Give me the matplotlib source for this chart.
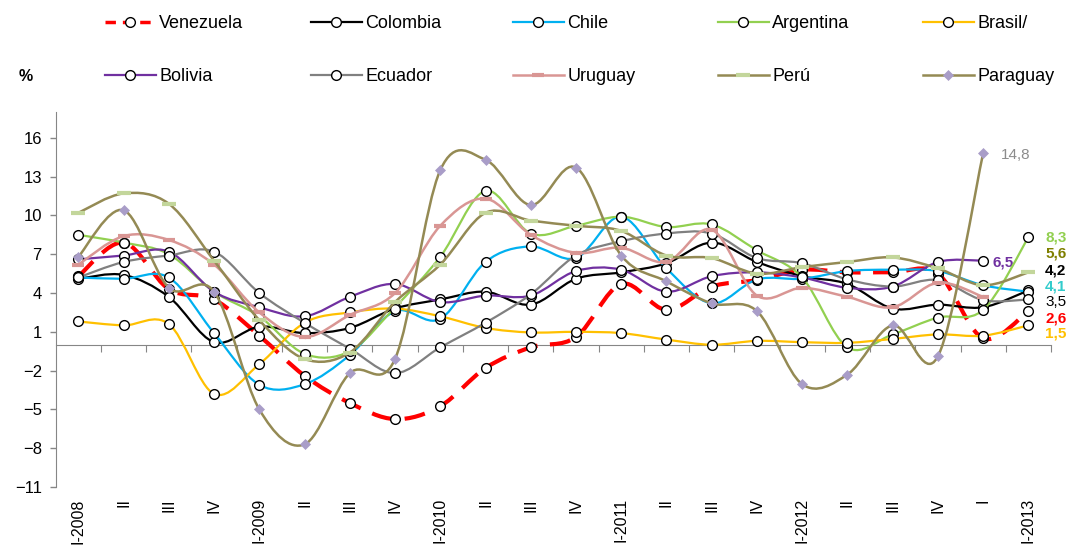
import numpy as np
import matplotlib
matplotlib.use('Agg')
import matplotlib.pyplot as plt
from matplotlib.path import Path
from matplotlib.patches import PathPatch
from matplotlib.lines import Line2D

plt.rcParams['font.family'] = ['Liberation Sans', 'DejaVu Sans']

# Trimestres
quarters = ["I-2008", "II", "III", "IV", "I-2009", "II", "III", "IV",
            "I-2010", "II", "III", "IV", "I-2011", "II", "III", "IV",
            "I-2012", "II", "III", "IV", "I", "I-2013"]

# Variación (%) por país
venezuela = [5.3, 7.9, 4.3, 3.5, 0.7, -2.4, -4.5, -5.75, -4.75, -1.8, -0.2,
             0.6, 4.7, 2.7, 4.5, 5.0, 5.8, 5.6, 5.6, 5.5, 0.5, 2.6]
colombia = [5.1, 5.4, 3.7, 0.2, 1.4, 0.9, 1.3, 2.8, 3.5, 4.1, 3.1,
            5.1, 5.6, 6.3, 7.9, 6.4, 5.3, 4.7, 2.8, 3.1, 2.9, 4.2]
chile = [5.2, 5.1, 5.2, 0.9, -3.1, -3.05, -0.8, 2.6, 2.0, 6.4, 7.6,
         6.7, 9.9, 5.9, 3.2, 5.05, 5.1, 5.7, 5.8, 5.7, 4.6, 4.1]
argentina = [8.5, 7.9, 7.0, 4.1, 2.2, -0.7, -0.5, 2.9, 6.8, 11.9, 8.6,
             9.2, 9.9, 9.1, 9.3, 7.3, 5.2, -0.2, 0.8, 2.1, 2.7, 8.3]
brasil = [1.8, 1.5, 1.6, -3.8, -1.5, 1.7, 2.5, 2.8, 2.2, 1.3, 0.95,
          1.0, 0.9, 0.4, 0.0, 0.3, 0.2, 0.15, 0.45, 0.8, 0.7, 1.5]
bolivia = [6.6, 6.9, 7.2, 4.1, 2.9, 2.2, 3.7, 4.7, 3.3, 3.8, 3.8,
           5.7, 5.8, 4.1, 5.3, 5.6, 5.2, 4.4, 4.5, 6.4, 6.5]
ecuador = [5.2, 6.4, 6.9, 7.2, 4.0, 1.7, -0.3, -2.2, -0.2, 1.7, 3.9,
           6.9, 8.0, 8.6, 8.6, 6.7, 6.3, 5.05, 4.5, 5.0, 3.45, 3.5]
uruguay = [6.2, 8.4, 8.1, 6.2, 2.5, 0.6, 2.3, 4.0, 9.2, 11.3, 8.5,
           7.1, 7.5, 6.4, 8.9, 3.8, 4.4, 3.7, 2.9, 4.8, 3.7]
peru = [10.2, 11.7, 10.9, 6.5, 1.9, -1.1, -0.6, 3.3, 6.2, 10.2, 9.6,
        9.2, 8.8, 6.9, 6.7, 5.5, 6.0, 6.4, 6.75, 5.9, 4.6, 5.6]
paraguay = [6.8, 10.4, 4.4, 4.1, -5.0, -7.7, -2.2, -1.1, 13.5, 14.3, 10.8,
            13.7, 6.9, 4.9, 3.2, 2.6, -3.05, -2.3, 1.5, -0.9, 14.8]

OLIVE = '#948A54'
circ = dict(marker='o', ms=7, mfc='white', mec='black', mew=1)
# nombre, datos, color, estilo línea, ancho, marcador
series = [
    ("Venezuela", venezuela, '#FF0000', (0, (5, 3)), 3.0, circ),
    ("Colombia", colombia, '#000000', '-', 1.6, circ),
    ("Chile", chile, '#00B0F0', '-', 1.6, circ),
    ("Argentina", argentina, '#92D050', '-', 1.6, circ),
    ("Brasil/", brasil, '#FFC000', '-', 1.6, circ),
    ("Bolivia", bolivia, '#7030A0', '-', 1.6, circ),
    ("Ecuador", ecuador, '#808080', '-', 1.6, circ),
    ("Uruguay", uruguay, '#D99694', '-', 1.8,
     dict(marker='_', ms=9, mec='#D99694', mew=3)),
    ("Perú", peru, OLIVE, '-', 1.8,
     dict(marker='_', ms=10, mec='#C3D69B', mew=3)),
    ("Paraguay", paraguay, OLIVE, '-', 1.8,
     dict(marker='D', ms=5.5, mfc='#A99DC8', mec='#A99DC8', mew=0.5)),
]


def smooth_path(xs, ys):
    # curva suavizada tipo Excel (Catmull-Rom -> Bezier)
    pts = np.column_stack([xs, ys]).astype(float)
    n = len(pts)
    verts = [pts[0]]
    codes = [Path.MOVETO]
    for i in range(n - 1):
        p0 = pts[i - 1] if i > 0 else pts[i]
        p1, p2 = pts[i], pts[i + 1]
        p3 = pts[i + 2] if i + 2 < n else pts[i + 1]
        verts += [p1 + (p2 - p0) / 6, p2 - (p3 - p1) / 6, p2]
        codes += [Path.CURVE4] * 3
    return Path(verts, codes)


fig = plt.figure(figsize=(10.72, 5.46), dpi=100)
ax = fig.add_axes([0.052, 0.108, 0.9284, 0.687])

handles = []
for k, (name, vals, color, ls, lw, mk) in enumerate(series):
    x = np.arange(len(vals))
    z = 2 + k
    ax.add_patch(PathPatch(smooth_path(x, vals), fill=False, edgecolor=color,
                           lw=lw, linestyle=ls, capstyle='butt', zorder=z))
    ax.plot(x, vals, ls='none', zorder=z + 0.5, clip_on=False, **mk)
    handles.append(Line2D([], [], color=color, lw=lw if lw < 3 else 2.5,
                          ls='-' if ls == '-' else (0, (3, 2)), **mk))

ax.set_xlim(-0.5, len(quarters) - 0.5)
ax.set_ylim(-11, 18)
ax.set_yticks(np.arange(-11, 17, 3))
ax.set_xticks(np.arange(len(quarters)))
ax.set_xticklabels(quarters, rotation=90, va='top', fontsize=11.5)
ax.tick_params(axis='x', length=0, pad=8)
ax.tick_params(axis='y', direction='out', length=4, width=1, color='#868686',
               labelsize=12, pad=6)
for s in ['top', 'right', 'bottom']:
    ax.spines[s].set_visible(False)
ax.spines['left'].set_color('#868686')

# eje horizontal en cero
sec = ax.secondary_xaxis((0 + 11) / 29)
sec.set_xticks(np.arange(0.5, len(quarters) - 0.4, 1))
sec.tick_params(axis='x', direction='out', length=5, color='#868686',
                labelbottom=False, labeltop=False)
sec.spines['bottom'].set_color('#868686')

# etiquetas finales
data = {name: vals for name, vals, *_ in series}
end_labels = [
    ("Argentina", 21, 12, 0, '#92D050', 'bold'),
    ("Perú", 21, 12, 13.7, '#7F7F00', 'bold'),
    ("Colombia", 21, 12, 14.6, 'black', 'bold'),
    ("Chile", 21, 12, 3.8, '#33CCCC', 'bold'),
    ("Ecuador", 21, 12, -1.5, 'black', 'normal'),
    ("Venezuela", 21, 12, -5, '#FF0000', 'bold'),
    ("Brasil/", 21, 12, -6, '#FFC000', 'bold'),
    ("Bolivia", 20, 6.5, -1, '#7030A0', 'bold'),
    ("Paraguay", 20, 13, -1, '#8C8C8C', 'normal'),
]
for name, idx, dx, dy, col, wt in end_labels:
    v = data[name][idx]
    ax.annotate(f"{v:.1f}".replace('.', ','), xy=(idx, v), xytext=(dx, dy),
                textcoords='offset points', ha='left', va='center',
                color=col, fontweight=wt, fontsize=11, annotation_clip=False)

# leyenda en dos filas
col_x = [105, 311, 513, 718, 923]
row_y = [24, 77]
for i, h in enumerate(handles):
    r, c = divmod(i, 5)
    fig.legend(handles=[h], labels=[series[i][0]], loc='center left',
               bbox_to_anchor=(col_x[c] / 1072, 1 - row_y[r] / 546),
               frameon=False, fontsize=13, handlelength=2.8,
               handletextpad=0.2, borderpad=0, borderaxespad=0)

fig.text(26 / 1072, 1 - 77 / 546, '%', fontsize=11.5, fontweight='bold',
         ha='center', va='center')

fig.savefig('out.png', dpi=100)
